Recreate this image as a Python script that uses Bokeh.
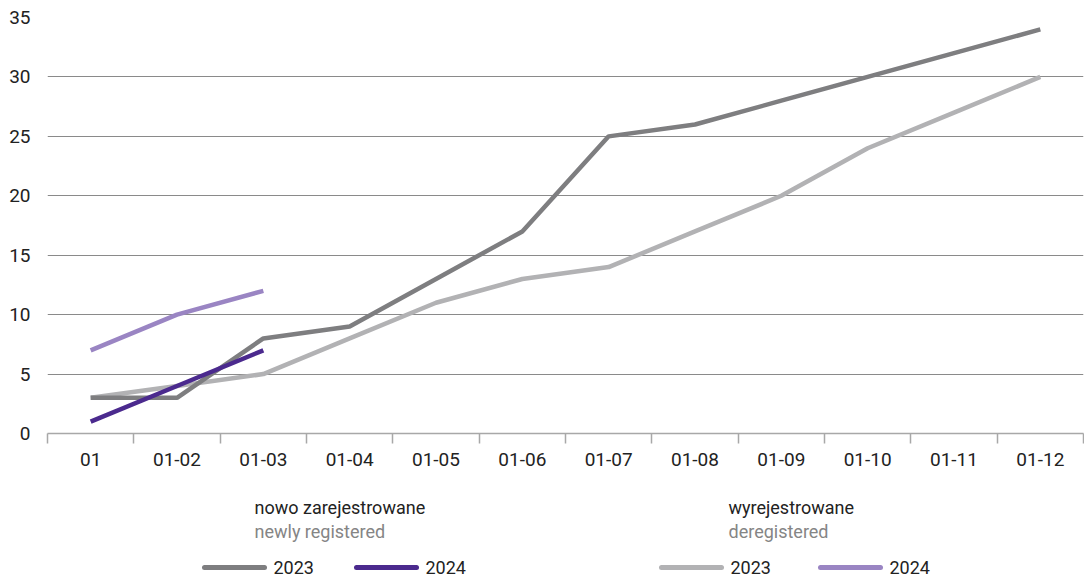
from bokeh.plotting import figure
from bokeh.layouts import column
from bokeh.models import Range1d, FixedTicker, CustomJSTickFormatter
from bokeh.core.properties import value
from bokeh.embed import file_html
from bokeh.resources import INLINE

months = ["01", "01-02", "01-03", "01-04", "01-05", "01-06", "01-07", "01-08", "01-09", "01-10", "01-11", "01-12"]
new_2023 = [3, 3, 8, 9, 13, 17, 25, 26, 28, 30, 32, 34]
dereg_2023 = [3, 4, 5, 8, 11, 13, 14, 17, 20, 24, 27, 30]
new_2024 = [1, 4, 7]
dereg_2024 = [7, 10, 12]
y_ticks = [0, 5, 10, 15, 20, 25, 30, 35]

C_NEW23 = "#7e7e80"
C_DER23 = "#b2b2b4"
C_NEW24 = "#4b2a8e"
C_DER24 = "#9a85c3"
FONT = "Roboto"
TXT = "#222222"

xs = [i + 0.5 for i in range(len(months))]

p = figure(width=1084, height=472, output_backend="svg", toolbar_location=None,
           x_range=Range1d(0, len(months)), y_range=Range1d(0, 35),
           min_border_left=47, min_border_right=1, min_border_top=17, min_border_bottom=39)
p.outline_line_color = None
p.ygrid.grid_line_color = "#8a8a8a"
p.ygrid.ticker = FixedTicker(ticks=y_ticks)
p.xgrid.grid_line_color = None

p.yaxis.ticker = FixedTicker(ticks=y_ticks)
p.yaxis.axis_line_color = None
p.yaxis.major_tick_line_color = None
p.yaxis.minor_tick_line_color = None
p.yaxis.major_label_standoff = 11
p.yaxis.major_label_text_font = FONT
p.yaxis.major_label_text_font_size = "19px"
p.yaxis.major_label_text_color = TXT

p.xaxis.ticker = FixedTicker(ticks=xs, minor_ticks=list(range(len(months) + 1)))
p.xaxis.formatter = CustomJSTickFormatter(args=dict(labels=months),
                                          code="return labels[Math.floor(tick)];")
p.xaxis.axis_line_color = "#a8a8a8"
p.xaxis.axis_line_width = 1.5
p.xaxis.major_tick_line_color = None
p.xaxis.major_tick_in = 0
p.xaxis.major_tick_out = 0
p.xaxis.minor_tick_line_color = "#a8a8a8"
p.xaxis.minor_tick_line_width = 1.5
p.xaxis.minor_tick_out = 10
p.xaxis.minor_tick_in = 0
p.xaxis.major_label_standoff = 9
p.xaxis.major_label_text_font = FONT
p.xaxis.major_label_text_font_size = "19px"
p.xaxis.major_label_text_color = TXT

p.line(xs, dereg_2023, line_color=C_DER23, line_width=4.5)
p.line(xs, new_2023, line_color=C_NEW23, line_width=4.5)
p.line(xs[:len(dereg_2024)], dereg_2024, line_color=C_DER24, line_width=4.5)
p.line(xs[:len(new_2024)], new_2024, line_color=C_NEW24, line_width=4.5)

# legend panel: its frame is aligned with the chart frame (x 47..1083), pixel coordinates
lg = figure(width=1084, height=107, output_backend="svg", toolbar_location=None,
            x_range=Range1d(47, 1083), y_range=Range1d(0, 107),
            min_border_left=47, min_border_right=1, min_border_top=0, min_border_bottom=0)
lg.axis.visible = False
lg.grid.visible = False
lg.outline_line_color = None

groups = [
    ("nowo zarejestrowane", "newly registered", 254, [(204, C_NEW23, "2023"), (356, C_NEW24, "2024")]),
    ("wyrejestrowane", "deregistered", 728, [(661, C_DER23, "2023"), (820, C_DER24, "2024")]),
]
for head, sub, hx, items in groups:
    lg.text([hx], [72], text=[head], text_font=value(FONT), text_font_size="18px",
            text_color=TXT, text_baseline="middle")
    lg.text([hx], [48], text=[sub], text_font=value(FONT), text_font_size="18px",
            text_color="#858585", text_baseline="middle")
    for lx, col, lab in items:
        lg.line([lx, lx + 60], [12, 12], line_color=col, line_width=5, line_cap="round")
        lg.text([lx + 69], [12], text=[lab], text_font=value(FONT), text_font_size="18px",
                text_color=TXT, text_baseline="middle")

layout = column(p, lg, spacing=0)
open("out.html", "w").write(file_html(layout, INLINE))
